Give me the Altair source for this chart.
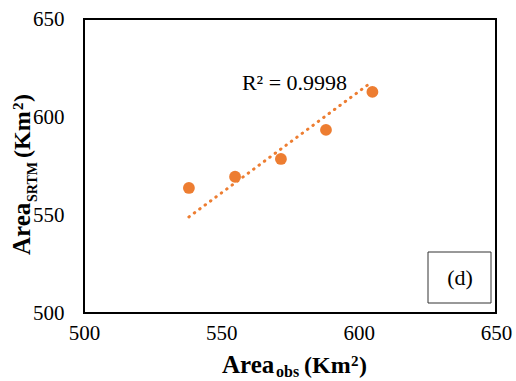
import altair as alt
import pandas as pd

# Observed vs SRTM areas (Km2)
area_obs = [538.2, 555.0, 571.7, 588.1, 605.0]
area_srtm = [563.8, 569.5, 578.6, 593.4, 612.8]

# Trendline end points as drawn
trend_x = [538.2, 604.8]
trend_y = [549.0, 617.9]

r2_label = ["R² = 0.9998"]
r2_x = [557.5]
r2_y = [613.8]

panel_label = "(d)"
ticks = [500, 550, 600, 650]

ORANGE = "#ED7D31"
FONT = "Liberation Serif"

pts = pd.DataFrame({"x": area_obs, "y": area_srtm})
trend = pd.DataFrame({"x": trend_x, "y": trend_y})
ann = pd.DataFrame({"x": r2_x, "y": r2_y, "t": r2_label})

xs = alt.Scale(domain=[500, 650], nice=False, zero=False)
ys = alt.Scale(domain=[500, 650], nice=False, zero=False)

xax = alt.Axis(values=ticks, ticks=False, domain=False, grid=False, title=None,
               labelFlush=False, labelFont=FONT, labelFontSize=21, labelPadding=9,
               labelColor="black")
yax = alt.Axis(values=ticks, ticks=False, domain=False, grid=False, title=None,
               labelFlush=False, labelFont=FONT, labelFontSize=21, labelPadding=20,
               labelColor="black")

trend_line = alt.Chart(trend).mark_line(
    color=ORANGE, strokeWidth=3, strokeDash=[0.5, 6.2], strokeCap="round"
).encode(x=alt.X("x:Q", scale=xs, axis=xax), y=alt.Y("y:Q", scale=ys, axis=yax))

points = alt.Chart(pts).mark_circle(color=ORANGE, opacity=1, size=140).encode(
    x=alt.X("x:Q", scale=xs), y=alt.Y("y:Q", scale=ys))

r2 = alt.Chart(ann).mark_text(font=FONT, fontSize=22, align="left", baseline="alphabetic",
                              color="black").encode(
    x=alt.X("x:Q", scale=xs), y=alt.Y("y:Q", scale=ys), text="t:N")

box = alt.Chart(pd.DataFrame({"a": [0]})).mark_rect(
    fill="white", stroke="#333333", strokeWidth=1).encode(
    x=alt.value(344), x2=alt.value(407), y=alt.value(233), y2=alt.value(284))
box_text = alt.Chart(pd.DataFrame({"t": [panel_label]})).mark_text(
    font=FONT, fontSize=22, align="center", baseline="middle", color="black").encode(
    x=alt.value(376), y=alt.value(259), text="t:N")

def piece(text, x, y, size, bold=True, angle=0):
    kw = dict(font=FONT, fontSize=size, align="left", baseline="alphabetic",
              color="black", fontWeight="bold" if bold else "normal")
    if angle:
        kw["angle"] = angle
    return alt.Chart(pd.DataFrame({"t": [text]})).mark_text(**kw).encode(
        x=alt.value(x), y=alt.value(y), text="t:N")

# x-axis title: Area_obs (Km^2)
xt = [
    piece("Area", 138, 354, 25),
    piece("obs", 192, 358, 16),
    piece("(Km", 220, 354, 24),
    piece("2", 267, 347, 15),
    piece(")", 275, 354, 24),
]
# y-axis title: Area_SRTM (Km^2), rotated
yt = [
    piece("Area", -54, 236, 25, angle=270),
    piece("SRTM", -47, 183, 14, angle=270),
    piece("(Km", -54, 139, 24, angle=270),
    piece("2", -61, 91, 15, angle=270),
    piece(")", -54, 83, 24, angle=270),
]

chart = alt.layer(trend_line, points, r2, box, box_text, *xt, *yt).properties(
    width=412, height=294,
    autosize=alt.AutoSizeParams(type="none"),
    padding={"left": 84, "top": 19, "right": 20, "bottom": 68},
    background="white",
).configure_view(stroke="black", strokeWidth=2)

chart.save("out.html", embed_options={"renderer": "svg", "actions": False})
